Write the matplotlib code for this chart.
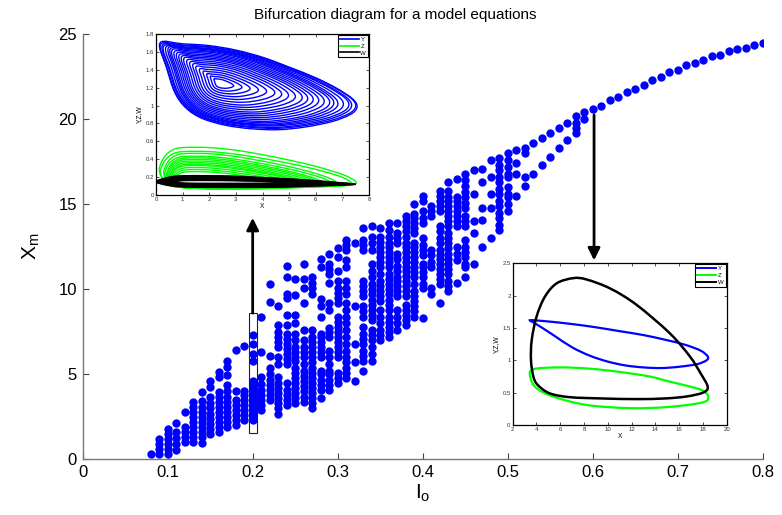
import numpy as np
import matplotlib
matplotlib.use('Agg')
import matplotlib.pyplot as plt
from matplotlib.path import Path
from matplotlib.patches import PathPatch, Rectangle

plt.rcParams['font.family'] = ['Liberation Sans', 'DejaVu Sans']
plt.rcParams['mathtext.default'] = 'regular'

# ---------------- bifurcation data (I_o, list of X_m maxima) ----------------
I_band1 = [0.08, 0.09, 0.10, 0.11, 0.12, 0.13, 0.14, 0.15, 0.16, 0.17, 0.18, 0.19, 0.20, 0.21, 0.22]
X_band1 = [
    [0.35],
    [0.3, 0.6, 0.9, 1.2],
    [0.3, 0.6, 0.9, 1.2, 1.5, 1.8],
    [0.55, 0.9, 1.25, 1.6, 2.15],
    [1.0, 1.3, 1.6, 1.9, 2.8],
    [1.0, 1.3, 1.6, 1.9, 2.2, 2.5, 2.8, 3.1, 3.4],
    [0.95, 1.3, 1.6, 1.9, 2.2, 2.5, 2.8, 3.1, 3.45, 3.95],
    [1.5, 1.8, 2.1, 2.4, 2.7, 3.0, 3.3, 3.65, 4.25, 4.6],
    [1.6, 1.9, 2.2, 2.5, 2.8, 3.1, 3.4, 3.65, 3.95, 4.85, 5.15],
    [1.9, 2.2, 2.5, 2.8, 3.1, 3.4, 3.7, 4.0, 4.35, 4.95, 5.45, 5.8],
    [2.0, 2.3, 2.6, 2.9, 3.2, 3.5, 4.0, 6.45],
    [2.3, 2.6, 2.9, 3.2, 3.5, 3.8, 4.05, 6.65],
    [2.3, 2.6, 2.9, 3.2, 3.5, 3.8, 4.1, 4.4, 4.6, 5.8, 6.2, 6.8, 7.3],
    [2.9, 3.2, 3.5, 3.8, 4.1, 4.45, 4.85, 6.3, 8.4],
    [3.5, 3.8, 4.1, 4.4, 4.7, 5.05, 5.4, 6.1, 9.25, 10.3],
]

I_band2 = [0.23, 0.24, 0.25, 0.26, 0.27, 0.28, 0.29, 0.30, 0.31, 0.32, 0.33, 0.34]
X_band2 = [
    [2.7, 3.0, 3.3, 3.6, 3.9, 4.2, 4.5, 4.85, 5.6, 6.0, 6.6, 6.9, 7.2, 7.5, 7.9, 9.0],
    [3.2, 3.5, 3.8, 4.1, 4.5, 5.6, 5.9, 6.2, 6.5, 6.8, 7.1, 7.4, 7.9, 8.5, 9.5, 9.75, 10.7, 11.4],
    [3.3, 3.6, 3.9, 4.2, 4.5, 4.8, 5.1, 5.4, 5.8, 6.0, 6.3, 6.6, 7.0, 7.4, 8.0, 8.5, 9.65, 10.6],
    [3.4, 3.7, 4.0, 4.3, 4.6, 4.9, 5.2, 5.6, 6.0, 6.3, 6.6, 7.0, 7.6, 9.2, 10.1, 10.6, 11.5],
    [3.0, 3.3, 3.6, 3.9, 4.2, 4.5, 4.8, 5.1, 5.4, 5.7, 6.0, 6.3, 6.6, 6.9, 7.2, 7.6, 9.7, 10.1, 10.4, 10.7],
    [3.6, 4.1, 4.4, 4.7, 5.0, 5.2, 6.0, 6.3, 6.6, 6.9, 7.2, 7.4, 8.4, 9.0, 9.45, 11.3, 11.8],
    [4.1, 4.4, 4.7, 5.0, 5.2, 5.6, 6.0, 6.4, 7.2, 7.5, 7.7, 8.8, 9.2, 10.4, 10.9, 11.2, 11.5, 12.1],
    [4.5, 4.8, 5.1, 6.0, 6.3, 6.6, 6.9, 7.2, 7.5, 7.8, 8.1, 8.4, 9.2, 9.5, 9.8, 10.1, 10.5, 11.1, 11.9, 12.4],
    [4.8, 5.1, 5.4, 5.7, 6.0, 6.4, 6.8, 7.2, 7.6, 8.0, 8.4, 8.8, 9.2, 9.7, 10.1, 10.5, 11.3, 11.7, 12.3, 12.6, 12.9],
    [4.6, 5.7, 6.8, 9.0, 12.7],
    [5.2, 5.8, 6.1, 6.4, 6.8, 7.1, 7.4, 7.8, 8.4, 8.7, 9.0, 9.6, 9.9, 10.2, 10.5, 12.3, 12.6, 12.9, 13.6],
    [5.8, 6.2, 6.6, 7.0, 7.3, 7.6, 8.2, 8.5, 8.8, 9.1, 9.4, 9.7, 10.0, 10.3, 10.7, 11.1, 11.5, 12.3, 12.7, 13.1, 13.7],
]

I_band3 = [0.35, 0.36, 0.37, 0.38, 0.39, 0.40, 0.41, 0.42, 0.43, 0.44, 0.45, 0.46, 0.47]
X_band3 = [
    [7.0, 7.3, 7.6, 8.0, 8.4, 8.8, 9.3, 9.6, 9.9, 10.2, 10.5, 10.9, 11.3, 11.6, 11.9, 12.2, 12.5, 12.8, 13.1, 13.6],
    [7.2, 7.5, 7.8, 8.1, 8.4, 8.8, 9.1, 9.4, 9.7, 10.0, 10.3, 10.6, 10.9, 11.3, 11.6, 11.9, 12.2, 12.5, 12.7, 13.1, 13.5, 13.9],
    [7.6, 8.0, 8.4, 8.8, 9.6, 9.9, 10.2, 10.5, 10.7, 11.1, 11.4, 11.8, 12.1, 12.7, 13.0, 13.3, 13.9],
    [7.9, 8.2, 8.5, 8.8, 9.1, 9.6, 9.9, 10.2, 10.5, 10.8, 11.1, 11.3, 11.6, 11.9, 12.2, 12.5, 12.7, 13.1, 13.4, 13.7, 14.0, 14.3],
    [8.4, 8.7, 9.0, 9.3, 9.6, 9.9, 10.3, 10.7, 11.0, 11.3, 11.6, 11.9, 12.2, 12.5, 12.7, 13.3, 13.6, 13.9, 14.2, 14.4, 15.0],
    [8.3, 10.1, 10.3, 10.7, 11.0, 11.3, 11.5, 12.0, 12.3, 12.6, 13.0, 13.9, 14.2, 14.6, 15.2, 15.5],
    [9.7, 10.1, 11.3, 11.6, 12.0, 12.3, 14.3, 14.6, 14.9],
    [9.2, 10.3, 10.6, 10.9, 11.2, 11.5, 11.8, 12.0, 12.3, 12.7, 13.0, 13.4, 13.7, 14.6, 14.9, 15.2, 15.5, 15.8],
    [9.9, 10.2, 10.5, 10.9, 11.2, 11.5, 11.8, 12.1, 12.4, 12.7, 13.0, 13.3, 13.7, 14.0, 14.3, 14.6, 14.9, 15.2, 15.4, 15.8, 16.3],
    [10.4, 11.7, 12.1, 12.5, 13.7, 14.0, 14.3, 14.6, 14.9, 15.2, 15.4, 16.5],
    [10.7, 11.3, 11.5, 11.9, 12.2, 12.5, 12.9, 13.7, 14.0, 14.3, 14.8, 15.1, 15.4, 15.7, 16.1, 16.4, 16.8],
    [11.5, 13.3, 14.0, 15.6, 17.0],
    [12.5, 14.1, 14.8, 16.3, 17.1],
]

I_band4 = [0.48, 0.49, 0.50, 0.51, 0.52, 0.53, 0.54, 0.55, 0.56, 0.57, 0.58, 0.59]
X_band4 = [
    [13.0, 14.8, 15.6, 16.6, 17.6],
    [13.5, 13.8, 14.2, 14.5, 14.9, 15.2, 15.6, 15.9, 16.3, 16.6, 17.0, 17.3, 17.7],
    [14.6, 15.0, 15.4, 15.6, 16.0, 16.6, 16.8, 17.2, 17.6, 18.0],
    [15.5, 16.8, 17.4, 18.2],
    [16.1, 16.6, 18.0, 18.3],
    [16.8, 18.6],
    [17.3, 18.9],
    [17.8, 19.2],
    [18.3, 19.5],
    [18.8, 19.8],
    [19.2, 19.5, 19.8, 20.2],
    [20.0, 20.4],
]

I_stable = [0.60, 0.61, 0.62, 0.63, 0.64, 0.65, 0.66, 0.67, 0.68, 0.69, 0.70,
            0.71, 0.72, 0.73, 0.74, 0.75, 0.76, 0.77, 0.78, 0.79, 0.80]
X_stable = [20.6, 20.8, 21.1, 21.3, 21.6, 21.8, 22.0, 22.3, 22.5, 22.8, 22.9,
            23.2, 23.3, 23.5, 23.7, 23.8, 24.0, 24.1, 24.2, 24.35, 24.45]

x_ticks = [0, 0.1, 0.2, 0.3, 0.4, 0.5, 0.6, 0.7, 0.8]
x_ticklabels = ['0', '0.1', '0.2', '0.3', '0.4', '0.5', '0.6', '0.7', '0.8']
y_ticks = [0, 5, 10, 15, 20, 25]

# ---------------- inset 1 (chaotic attractor, I_o = 0.2) ----------------
blue_outer_x = [0.15, 1.0, 2.0, 3.0, 4.0, 5.0, 6.0, 6.8, 7.4, 7.55, 7.3, 6.6, 5.6, 4.6, 3.6, 2.6, 1.7, 1.1, 0.7, 0.4]
blue_outer_y = [1.70, 1.69, 1.67, 1.62, 1.54, 1.43, 1.31, 1.19, 1.07, 0.98, 0.90, 0.82, 0.76, 0.73, 0.74, 0.78, 0.86, 0.98, 1.15, 1.42]
blue_center = (2.4, 1.25)
blue_sx = [1.0, 0.99, 0.96, 0.94, 0.9, 0.86, 0.83, 0.8, 0.76, 0.72, 0.68, 0.64, 0.6, 0.55, 0.5, 0.45, 0.4, 0.34, 0.28, 0.22, 0.16, 0.1]
blue_sy = [1.0, 0.97, 0.95, 0.92, 0.9, 0.88, 0.85, 0.82, 0.78, 0.74, 0.7, 0.66, 0.62, 0.57, 0.52, 0.47, 0.41, 0.35, 0.29, 0.23, 0.17, 0.11]

green_outer_x = [0.12, 0.3, 0.6, 1.0, 2.0, 3.0, 4.0, 5.0, 6.0, 7.0, 7.5, 7.3, 6.0, 5.0, 4.0, 3.0, 2.0, 1.2, 0.6, 0.3]
green_outer_y = [0.28, 0.42, 0.50, 0.53, 0.53, 0.50, 0.45, 0.39, 0.32, 0.23, 0.15, 0.11, 0.09, 0.08, 0.07, 0.07, 0.07, 0.08, 0.10, 0.16]
green_center = (1.5, 0.08)
green_sx = [1.0, 0.97, 0.88, 0.85, 0.8, 0.78, 0.75, 0.72, 0.7, 0.68, 0.65, 0.62, 0.6]
green_sy = [1.0, 0.9, 0.85, 0.78, 0.74, 0.7, 0.66, 0.62, 0.58, 0.55, 0.5, 0.45, 0.4]

black_outer_x = [0.0, 0.5, 1.0, 2.0, 3.0, 4.0, 5.0, 6.0, 7.0, 7.5, 7.0, 6.0, 5.0, 4.0, 3.0, 2.0, 1.0, 0.4]
black_outer_y = [0.15, 0.20, 0.215, 0.215, 0.21, 0.195, 0.18, 0.16, 0.135, 0.12, 0.11, 0.10, 0.09, 0.085, 0.085, 0.085, 0.09, 0.11]
black_center = (1.8, 0.145)
black_sx = [1.0, 0.98, 0.95, 0.92, 0.9, 0.87, 0.84, 0.8, 0.77, 0.74, 0.7, 0.66]
black_sy = [1.0, 0.93, 0.86, 0.8, 0.74, 0.68, 0.62, 0.55, 0.48, 0.4, 0.32, 0.24]

# ---------------- inset 2 (limit cycle, I_o = 0.6) ----------------
y_cycle_x = [3.5, 5.0, 7.0, 9.0, 11.0, 13.0, 15.0, 16.5, 17.8, 18.4, 18.3, 17.5, 16.0, 14.5, 13.0, 11.5, 10.0, 8.5, 7.0, 5.5, 4.5, 3.8]
y_cycle_y = [1.62, 1.60, 1.56, 1.51, 1.45, 1.39, 1.31, 1.24, 1.15, 1.06, 1.00, 0.94, 0.90, 0.88, 0.89, 0.92, 0.98, 1.07, 1.20, 1.38, 1.50, 1.58]
z_cycle_x = [3.7, 6.0, 8.5, 11.0, 13.5, 15.2, 17.0, 18.0, 18.45, 18.0, 15.2, 11.9, 8.2, 5.4, 4.0, 3.5]
z_cycle_y = [0.86, 0.89, 0.87, 0.82, 0.75, 0.67, 0.59, 0.53, 0.44, 0.35, 0.28, 0.26, 0.31, 0.44, 0.57, 0.73]
w_cycle_x = [3.54, 3.74, 4.1, 5.1, 6.8, 9.5, 12.4, 14.8, 16.6, 18.0, 18.4, 17.8, 16.9, 15.2, 12.4, 10.2, 8.2, 7.1, 5.7, 4.7, 4.0, 3.6]
w_cycle_y = [1.00, 0.75, 0.62, 0.49, 0.43, 0.41, 0.40, 0.41, 0.44, 0.50, 0.59, 0.80, 1.06, 1.42, 1.86, 2.11, 2.25, 2.27, 2.19, 1.98, 1.67, 1.31]

BLUE = '#0000ff'
GREEN = '#00ff00'


def closed_path(xs, ys):
    pts = np.column_stack([xs, ys]).astype(float)
    n = len(pts)
    verts = [pts[0]]
    codes = [Path.MOVETO]
    for i in range(n):
        p0, p1, p2, p3 = pts[(i - 1) % n], pts[i], pts[(i + 1) % n], pts[(i + 2) % n]
        verts += [p1 + (p2 - p0) / 6.0, p2 - (p3 - p1) / 6.0, p2]
        codes += [Path.CURVE4] * 3
    return Path(verts, codes)


def draw_loop(ax, xs, ys, color, lw):
    ax.add_patch(PathPatch(closed_path(xs, ys), fill=False, edgecolor=color, lw=lw))


fig = plt.figure(figsize=(7.82, 5.15), dpi=100)

# ---------------- main axes ----------------
ax = fig.add_axes([0.1055, 0.1078, 0.8696, 0.826])
for I_list, X_list in [(I_band1, X_band1), (I_band2, X_band2), (I_band3, X_band3), (I_band4, X_band4)]:
    for i_val, xs in zip(I_list, X_list):
        ax.plot([i_val] * len(xs), xs, 'o', ms=6.0, color=BLUE, mec='none', zorder=2)
ax.plot(I_stable, X_stable, 'o', ms=6.0, color=BLUE, mec='none', zorder=2)

ax.set_xlim(0, 0.8)
ax.set_ylim(0, 25)
ax.set_xticks(x_ticks)
ax.set_xticklabels(x_ticklabels)
ax.set_yticks(y_ticks)
for s in ['top', 'right']:
    ax.spines[s].set_visible(False)
for s in ['left', 'bottom']:
    ax.spines[s].set_color('#777777')
    ax.spines[s].set_linewidth(1.0)
ax.tick_params(direction='in', length=4, width=0.8, color='#444444', labelsize=12, pad=4)
ax.set_xlabel(r'I$_o$', fontsize=15, labelpad=2)
ax.set_ylabel(r'X$_m$', fontsize=15, labelpad=12)

# rectangle and arrows
ax.add_patch(Rectangle((0.1963, 1.57), 0.0088, 7.03, fill=False, edgecolor='#222222', lw=0.8, zorder=3))
ax.annotate('', xy=(0.2002, 14.2), xytext=(0.2002, 8.6),
            arrowprops=dict(arrowstyle='-|>', color='black', lw=2, mutation_scale=18, shrinkA=0, shrinkB=0), zorder=4)
ax.annotate('', xy=(0.6018, 11.7), xytext=(0.6018, 20.25),
            arrowprops=dict(arrowstyle='-|>', color='black', lw=2, mutation_scale=18, shrinkA=0, shrinkB=0), zorder=4)

fig.text(395 / 782, 1 - 15 / 515, 'Bifurcation diagram for a model equations',
         ha='center', va='center', fontsize=11)


def style_inset(a):
    for s in a.spines.values():
        s.set_linewidth(0.9)
        s.set_color('black')
    a.tick_params(direction='in', length=2, width=0.6, labelsize=4.3, pad=1.5,
                  top=True, right=True, colors='#333333')


# ---------------- inset 1 ----------------
a1 = fig.add_axes([0.1995, 0.6214, 0.2724, 0.3126])
bx = np.array(blue_outer_x); by = np.array(blue_outer_y)
for sx, sy in zip(blue_sx, blue_sy):
    draw_loop(a1, blue_center[0] + sx * (bx - blue_center[0]), blue_center[1] + sy * (by - blue_center[1]), BLUE, 1.0)
gx = np.array(green_outer_x); gy = np.array(green_outer_y)
for sx, sy in zip(green_sx, green_sy):
    draw_loop(a1, green_center[0] + sx * (gx - green_center[0]), green_center[1] + sy * (gy - green_center[1]), GREEN, 1.0)
kx = np.array(black_outer_x); ky = np.array(black_outer_y)
for sx, sy in zip(black_sx, black_sy):
    draw_loop(a1, black_center[0] + sx * (kx - black_center[0]), black_center[1] + sy * (ky - black_center[1]), 'black', 1.0)
a1.set_xlim(0, 8)
a1.set_ylim(0, 1.8)
a1.set_xticks(range(0, 9))
a1.set_yticks([0, 0.2, 0.4, 0.6, 0.8, 1, 1.2, 1.4, 1.6, 1.8])
a1.set_yticklabels(['0', '0.2', '0.4', '0.6', '0.8', '1', '1.2', '1.4', '1.6', '1.8'])
a1.set_xlabel('X', fontsize=4.8, labelpad=1)
a1.set_ylabel('Y,Z,W', fontsize=4.8, labelpad=2)
style_inset(a1)
h1 = [plt.Line2D([], [], color=BLUE, lw=1.2), plt.Line2D([], [], color=GREEN, lw=1.2), plt.Line2D([], [], color='black', lw=1.2)]
leg = a1.legend(h1, ['Y', 'Z', 'W'], loc='upper right', fontsize=4.3, handlelength=3.2, handletextpad=0.3,
                borderpad=0.3, labelspacing=0.25, fancybox=False, framealpha=1, borderaxespad=0.2)
leg.get_frame().set_edgecolor('black')
leg.get_frame().set_linewidth(0.8)

# ---------------- inset 2 ----------------
a2 = fig.add_axes([0.6556, 0.1748, 0.2737, 0.314])
draw_loop(a2, z_cycle_x, z_cycle_y, GREEN, 1.6)
draw_loop(a2, y_cycle_x, y_cycle_y, BLUE, 1.6)
draw_loop(a2, w_cycle_x, w_cycle_y, 'black', 1.8)
a2.set_xlim(2, 20)
a2.set_ylim(0, 2.5)
a2.set_xticks(range(2, 21, 2))
a2.set_yticks([0, 0.5, 1, 1.5, 2, 2.5])
a2.set_yticklabels(['0', '0.5', '1', '1.5', '2', '2.5'])
a2.set_xlabel('X', fontsize=4.8, labelpad=1)
a2.set_ylabel('Y,Z,W', fontsize=4.8, labelpad=2)
style_inset(a2)
h2 = [plt.Line2D([], [], color=BLUE, lw=1.4), plt.Line2D([], [], color=GREEN, lw=1.4), plt.Line2D([], [], color='black', lw=1.4)]
leg2 = a2.legend(h2, ['Y', 'Z', 'W'], loc='upper right', fontsize=4.3, handlelength=3.2, handletextpad=0.3,
                 borderpad=0.3, labelspacing=0.25, fancybox=False, framealpha=1, borderaxespad=0.2)
leg2.get_frame().set_edgecolor('black')
leg2.get_frame().set_linewidth(0.8)

fig.savefig('out.png', dpi=100)
